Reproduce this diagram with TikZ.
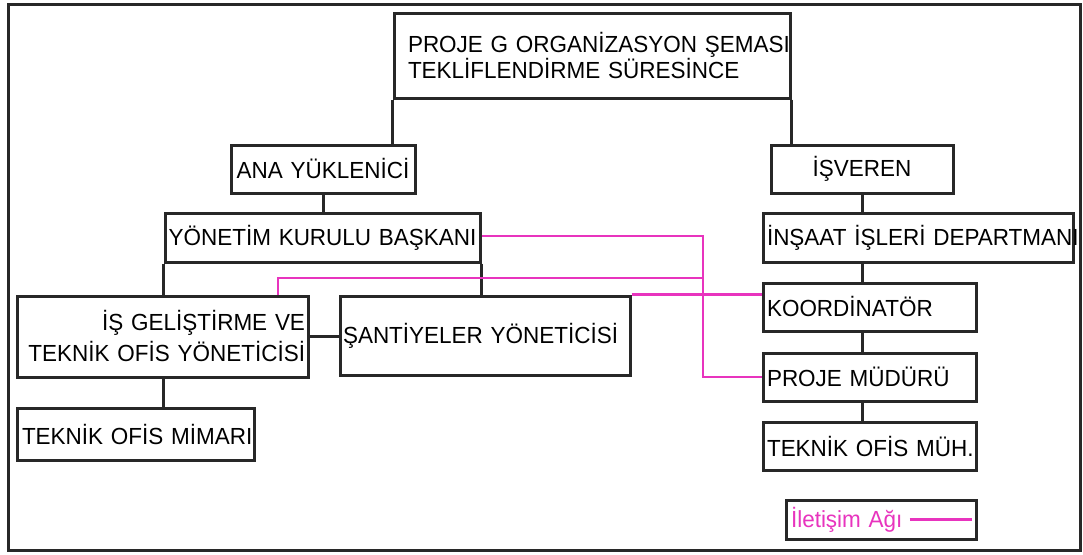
\documentclass[tikz,border=0pt]{standalone}
\usepackage{fontspec}
\setmainfont{Liberation Sans}[FakeStretch=0.965]
\definecolor{netpink}{RGB}{232,52,190}
\definecolor{inkgray}{RGB}{40,40,40}

\tikzset{
  orgbox/.style={draw=inkgray, line width=3pt, fill=white, inner ysep=0pt,
    font=\fontsize{23.3}{26}\selectfont, text=black},
  orgline/.style={draw=inkgray, line width=3pt},
  netline/.style={draw=netpink, line width=2.7pt},
}

% \chartbox{name}{x1}{y1}{x2}{y2}{align}{pad}{text}  (pixel-like units, y down)
\newcommand\chartbox[8]{%
  \pgfmathsetmacro\cbW{#4-#2}\pgfmathsetmacro\cbH{#5-#3}%
  \pgfmathsetmacro\cbT{#4-#2-2*#7}%
  \pgfmathsetmacro\cbX{(#2+#4)/2}\pgfmathsetmacro\cbY{(#3+#5)/2}%
  \node[orgbox, minimum width=\cbW pt, minimum height=\cbH pt,
        text width=\cbT pt, inner xsep=#7pt, align=#6] (#1) at (\cbX,\cbY) {#8};}

\begin{document}
\begin{tikzpicture}[x=1pt, y=-1pt]
  \useasboundingbox (0,0) rectangle (1083,554);
  % outer frame
  \node[draw=inkgray, line width=3pt, minimum width=1072pt, minimum height=546pt,
        inner sep=0pt] (frame) at (544,277) {};

  % boxes
  \chartbox{title}{394}{13}{790}{98}{left}{14}{\mbox{PROJE G ORGANİZASYON ŞEMASI}\\\mbox{TEKLİFLENDİRME SÜRESİNCE}}
  \chartbox{ana}{231}{145}{415}{193}{center}{3}{\mbox{ANA YÜKLENİCİ}}
  \chartbox{yon}{165}{213}{480}{262}{center}{3}{\mbox{YÖNETİM KURULU BAŞKANI}}
  \chartbox{is}{17}{296}{308}{377}{right}{3}{\mbox{İŞ GELİŞTİRME VE}\\[5pt]\mbox{TEKNİK OFİS YÖNETİCİSİ}}
  \chartbox{san}{340}{296}{630}{375}{left}{3}{\mbox{ŞANTİYELER YÖNETİCİSİ}}
  \chartbox{mim}{17}{408}{254}{460}{left}{5}{\mbox{TEKNİK OFİS MİMARI}}
  \chartbox{isv}{771}{145}{953}{193}{center}{3}{\mbox{İŞVEREN}}
  \chartbox{ins}{763}{213}{1073}{262}{left}{4}{\mbox{İNŞAAT İŞLERİ DEPARTMANI}}
  \chartbox{koo}{763}{283}{976}{331}{left}{4}{\mbox{KOORDİNATÖR}}
  \chartbox{pro}{763}{353}{976}{401}{left}{4}{\mbox{PROJE MÜDÜRÜ}}
  \chartbox{tek}{763}{422}{976}{470}{left}{4}{\mbox{TEKNİK OFİS MÜH.}}
  \chartbox{leg}{786}{500}{976}{539}{left}{5}{\mbox{\textcolor{netpink}{İletişim Ağı}}}

  % hierarchy connectors
  \draw[orgline] (title.south west) -- (title.south west |- ana.north);
  \draw[orgline] (title.south east) -- (title.south east |- isv.north);
  \draw[orgline] (ana.south) -- (ana.south |- yon.north);
  \draw[orgline] (yon.south west) -- (yon.south west |- is.north);
  \draw[orgline] (yon.south east) -- (yon.south east |- san.north);
  \draw[orgline] (is.east) -- (is.east -| san.west);
  \draw[orgline] (yon.south west |- is.south) -- (yon.south west |- mim.north);
  \draw[orgline] (isv.south) -- (isv.south |- ins.north);
  \draw[orgline] (isv.south |- ins.south) -- (isv.south |- koo.north);
  \draw[orgline] (isv.south |- koo.south) -- (isv.south |- pro.north);
  \draw[orgline] (isv.south |- pro.south) -- (isv.south |- tek.north);

  % communication network
  \coordinate (bend) at (703,236);
  \coordinate (tap) at (278,278);
  \draw[netline] (yon.east |- bend) -- (bend) -- (bend |- pro.west) -- (pro.west);
  \draw[netline] (tap |- is.north) -- (tap) -- (tap -| bend);
  \draw[netline] (san.north east) -- (san.north east -| koo.west);

  % legend sample line
  \draw[netline] ([xshift=-68pt]leg.east) -- ([xshift=-6pt]leg.east);
\end{tikzpicture}
\end{document}
